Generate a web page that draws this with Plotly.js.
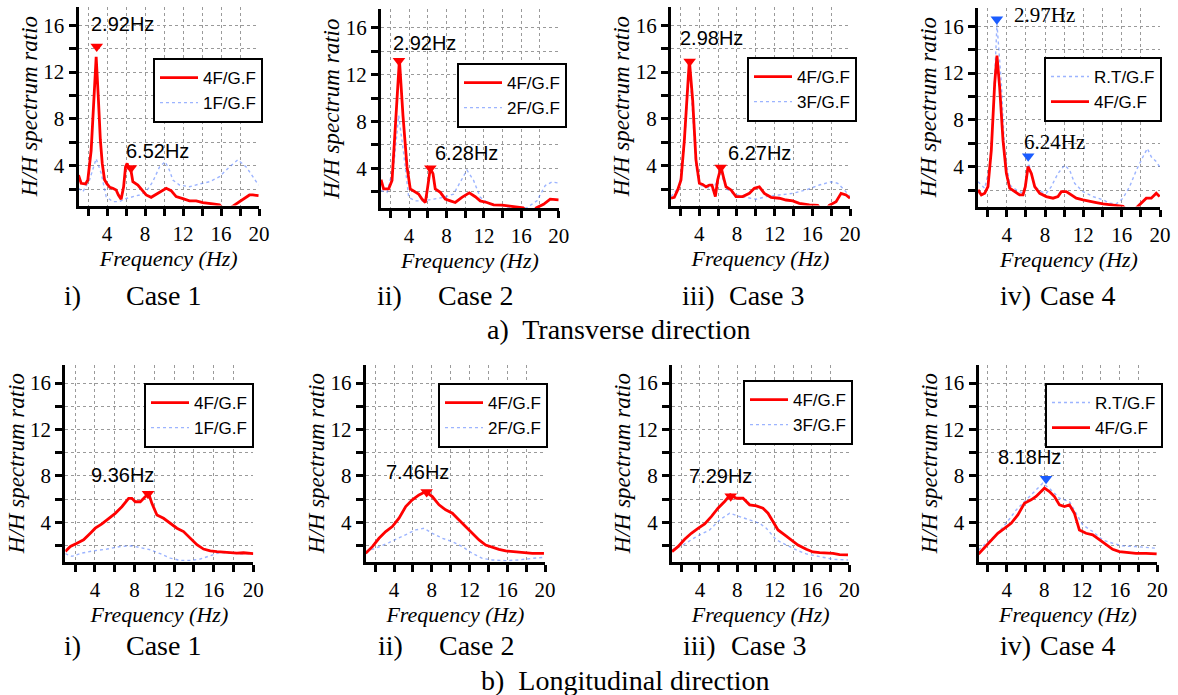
<!DOCTYPE html>
<html>
<head>
<meta charset="utf-8">
<script src="https://cdn.plot.ly/plotly-3.0.1.min.js"></script>
<style>html,body{margin:0;padding:0;background:#fff}#chart{width:1178px;height:695px}</style>
</head>
<body>
<div id="chart"></div>
<script>
// ---------- Data ----------
// Transverse, Case 1
const t1RedX = [1.0,1.28,1.74,1.98,2.33,2.6,2.86,3.1,3.3,3.5,3.74,4.0,4.3,4.61,4.96,5.2,5.49,5.75,5.95,6.12,6.3,6.45,6.72,7.25,7.77,8.12,8.65,9.35,10.0,10.23,10.75,11.28,11.98,12.68,13.39,14.09,15.14,15.84,16.2,16.8,17.25,17.6,17.95,18.3,18.65,19.0,19.35,19.95];
const t1RedY = [3.2,2.5,2.44,2.78,5.3,9.6,13.3,9.6,6.2,4.2,2.8,2.44,2.15,2.07,1.93,1.5,1.13,2.2,3.9,4.2,3.7,3.95,2.63,2.35,1.78,1.5,1.3,1.64,1.98,2.07,1.87,1.36,1.19,1.0,1.0,0.85,0.73,0.65,0.36,0.3,0.55,0.75,0.93,1.15,1.36,1.5,1.5,1.45];
const t1BlueX = [1,1.46,2.16,2.86,3.39,3.91,4.61,5.32,6.02,6.72,7.42,8.12,8.82,9.53,10.12,10.58,10.93,11.63,12.68,13.74,14.79,15.84,16.89,17.77,18.65,19.35,19.95];
const t1BlueY = [2.07,1.78,2.78,4.6,3.35,1.36,0.93,0.93,1.2,1.36,1.5,1.78,2.63,3.9,4.35,3.6,2.78,2.35,2.2,2.44,2.63,3.06,3.9,4.5,3.9,3.06,2.35];
const t1PeakX = [2.92, 6.52];
const t1PeakY = [14.2, 3.8];
// Transverse, Case 2
const t2RedX = [1,1.28,1.82,2.18,2.45,2.97,3.35,3.78,4.13,4.67,5.02,5.38,5.74,5.99,6.27,6.56,6.8,7.34,7.87,8.41,8.94,9.65,10.44,11.08,11.61,12.32,13.04,13.93,14.82,15.53,16.2,16.6,17.3,17.6,18.38,19.09,20.0];
const t2RedY = [3.03,2.24,2.24,2.97,6.47,13.3,8.5,4.14,2.24,1.95,1.8,1.37,1.08,2.39,4.0,3.55,2.24,1.95,1.37,1.22,1.08,1.52,1.9,1.57,1.22,1.08,0.87,0.85,0.78,0.7,0.62,0.3,0.3,0.62,0.93,1.37,1.31];
const t2BlueX = [1,1.64,2.35,2.89,3.42,3.96,4.67,5.56,6.63,7.7,8.76,9.48,10.19,10.9,11.61,12.68,14.1,15.53,16.6,17.67,18.56,19.27,20.0];
const t2BlueY = [2.1,1.95,4.14,8.5,5.3,1.52,1.22,1.22,1.37,1.52,1.8,2.83,3.85,2.97,1.52,0.93,0.79,0.5,0.64,1.22,2.53,2.83,2.74];
const t2PeakX = [2.92, 6.28];
const t2PeakY = [13.2, 4.0];
// Transverse, Case 3
const t3RedX = [1,1.35,1.71,2.06,2.42,2.77,2.95,3.3,3.65,4.01,4.36,4.72,5.07,5.35,5.71,5.95,6.31,6.56,6.84,7.37,7.9,8.61,9.32,9.85,10.38,10.91,11.62,12.5,13.21,13.92,14.62,15.69,16.57,16.9,17.5,17.8,18.52,19.05,19.58,20.0];
const t3RedY = [1.22,1.3,1.93,2.78,6.2,10.46,13.0,9.6,4.5,2.5,2.4,2.2,2.35,2.35,1.36,2.78,3.9,3.06,2.2,1.93,1.36,1.36,1.64,2.07,2.2,1.64,1.3,1.22,1.07,1.0,0.79,0.65,0.62,0.3,0.3,0.62,0.93,1.64,1.5,1.22];
const t3BlueX = [1,1.88,2.4,2.95,3.3,3.65,4.01,4.72,5.42,6.31,6.84,7.55,8.61,9.32,10.03,11.09,12.5,13.92,15.33,16.75,17.99,18.7,19.4,20.0];
const t3BlueY = [1.36,2.2,5.5,12.4,8.5,3.9,2.35,2.2,1.93,3.35,2.07,1.64,1.36,1.22,1.13,1.36,1.5,1.64,1.93,2.35,2.63,2.5,1.93,1.36];
const t3PeakX = [2.98, 6.27];
const t3PeakY = [12.9, 3.85];
// Transverse, Case 4
const t4RedX = [1,1.35,1.7,2.04,2.39,2.74,2.98,3.26,3.61,3.96,4.31,4.83,5.35,5.7,5.94,6.22,6.57,6.92,7.44,8.13,8.83,9.35,9.7,10.22,10.74,11.26,11.96,12.66,13.35,14.05,14.74,15.44,16.14,16.5,17.3,17.7,18.05,18.57,19.09,19.61,19.96];
const t4RedY = [2.02,1.59,1.73,2.3,5.4,11.1,13.5,10.8,6.27,3.43,2.16,1.87,1.59,1.59,2.3,4.0,3.43,2.3,1.73,1.45,1.31,1.45,1.87,1.87,1.59,1.31,1.17,1.08,0.94,0.83,0.74,0.66,0.62,0.3,0.3,0.62,0.88,1.31,1.31,1.73,1.45];
const t4BlueX = [1,1.7,2.22,2.57,2.98,3.44,3.78,4.31,5.0,5.7,6.05,6.29,6.92,7.61,8.13,8.65,9.35,10.05,10.57,11.09,11.96,13.0,14.05,14.74,15.44,16.14,16.83,17.53,18.22,18.68,19.09,19.61,19.96];
const t4BlueY = [2.72,2.16,4.0,8.3,16.2,11.1,5.4,2.44,2.02,1.73,2.87,4.3,2.3,1.87,1.73,2.3,3.43,4.14,3.7,2.58,1.87,1.45,1.17,0.88,0.83,1.31,2.3,3.7,4.85,5.56,4.85,4.43,4.0];
const t4PeakX = [2.97, 6.24];
const t4PeakY = [16.6, 4.9];
// Longitudinal, Case 1
const l1RedX = [1,1.51,2.18,2.85,3.53,4.03,4.7,5.38,6.05,6.72,7.4,7.73,8.07,8.58,9.08,9.42,9.75,10.26,10.93,11.61,12.28,12.95,13.63,14.3,14.97,15.65,16.32,17.0,17.67,18.34,19.01,19.52,20.0];
const l1RedY = [1.49,1.91,2.2,2.49,3.06,3.49,3.86,4.34,4.77,5.34,6.06,6.06,5.77,5.77,6.2,6.49,5.63,4.63,4.34,3.91,3.49,3.2,2.63,2.06,1.69,1.54,1.46,1.4,1.34,1.34,1.37,1.34,1.29];
const l1BlueX = [1,1.67,2.68,3.86,5.21,6.56,7.73,8.58,9.59,10.6,11.61,12.62,13.63,14.64,15.65,16.66,17.67,18.68,20.0];
const l1BlueY = [1.29,1.06,1.34,1.54,1.69,1.91,1.97,1.83,1.63,1.29,0.91,0.71,0.71,0.83,1.11,1.4,1.34,1.29,1.29];
const l1PeakX = [9.36];
const l1PeakY = [6.45];
// Longitudinal, Case 2
const l2RedX = [1,1.71,2.41,3.12,3.82,4.53,5.24,5.94,6.65,7.36,8.06,8.77,9.47,10.18,10.89,11.59,12.3,13.01,13.71,14.42,15.12,15.83,16.54,17.24,17.95,18.66,19.89];
const l2RedY = [1.32,1.9,2.62,3.2,3.63,4.35,5.35,5.93,6.36,6.65,6.22,5.5,5.07,4.78,4.2,3.63,3.05,2.48,2.04,1.84,1.67,1.53,1.47,1.47,1.38,1.32,1.32];
const l2BlueX = [1,2.06,3.47,4.88,6.3,7.18,8.06,9.12,10.18,11.24,12.3,13.36,14.42,15.83,17.24,18.66,19.89];
const l2BlueY = [1.47,1.76,2.25,2.76,3.34,3.48,3.05,2.62,2.33,1.9,1.32,0.89,0.75,0.69,0.75,0.89,0.98];
const l2PeakX = [7.46];
const l2PeakY = [6.6];
// Longitudinal, Case 3
const l3RedX = [1,1.64,2.36,3.07,3.79,4.5,5.21,5.93,6.64,7.25,7.89,8.61,9.32,10.04,10.75,11.29,11.82,12.36,13.07,13.79,14.5,15.39,16.11,16.82,17.54,18.25,18.96,19.86];
const l3RedY = [1.47,1.9,2.53,3.05,3.48,3.86,4.49,5.21,5.79,6.36,6.07,6.07,5.5,5.41,5.21,4.78,4.06,3.34,2.91,2.48,2.04,1.67,1.44,1.38,1.38,1.32,1.21,1.18];
const l3BlueX = [1,2.18,3.61,5.04,6.11,7.18,8.25,9.32,10.39,11.11,12.18,13.25,14.32,15.39,16.82,18.25,19.86];
const l3BlueY = [1.61,2.04,2.76,3.34,4.2,4.78,4.49,4.2,3.91,3.48,2.48,2.04,1.61,1.27,1.04,0.81,0.75];
const l3PeakX = [7.29];
const l3PeakY = [6.25];
// Longitudinal, Case 4
const l4RedX = [1,1.64,2.34,3.05,3.76,4.47,5.18,5.88,6.59,7.12,7.65,8.01,8.54,9.07,9.6,10.13,10.66,11.19,11.72,12.43,13.14,13.85,14.55,15.26,15.97,16.68,17.74,18.8,19.93];
const l4RedY = [1.27,1.84,2.47,3.05,3.48,3.91,4.63,5.64,5.93,6.22,6.65,6.94,6.65,6.22,5.5,5.35,5.5,4.78,3.34,3.05,2.91,2.47,2.04,1.67,1.47,1.41,1.32,1.32,1.27];
const l4BlueX = [1,1.81,2.88,3.94,5.0,5.88,6.77,7.83,8.71,9.6,10.66,11.37,12.08,13.14,14.2,15.26,16.32,17.74,18.8,19.93];
const l4BlueY = [1.61,2.19,2.91,3.91,5.06,5.78,6.5,7.37,6.79,6.07,5.78,4.78,3.77,3.2,2.47,2.19,1.96,1.9,1.84,1.76];
const l4PeakX = [8.18];
const l4PeakY = [7.75];

// Names and labels
const redNames = ['4F/G.F','4F/G.F','4F/G.F','4F/G.F','4F/G.F','4F/G.F','4F/G.F','4F/G.F'];
const blueNames = ['1F/G.F','2F/G.F','3F/G.F','R.T/G.F','1F/G.F','2F/G.F','3F/G.F','R.T/G.F'];
const peakTexts = [['2.92Hz','6.52Hz'],['2.92Hz','6.28Hz'],['2.98Hz','6.27Hz'],['2.97Hz','6.24Hz'],['9.36Hz'],['7.46Hz'],['7.29Hz'],['8.18Hz']];
const caseLabels = ['i)','ii)','iii)','iv)'];
const caseNames = ['Case 1','Case 2','Case 3','Case 4'];
const directionTitles = ['a)\u00a0 Transverse direction','b)\u00a0 Longitudinal direction'];
const xTickVals = [2,4,6,8,10,12,14,16,18,20];
const xTickText = ['','4','','8','','12','','16','','20'];
const yTickVals = [2,4,6,8,10,12,14,16];
const yTickText = ['','4','','8','','12','','16'];
const xTitle = 'Frequency (Hz)';
const yTitle = 'H/H spectrum ratio';

// ---------- Build ----------
const W = 1178, H = 695;
const series = [
  [t1RedX,t1RedY,t1BlueX,t1BlueY,t1PeakX,t1PeakY],
  [t2RedX,t2RedY,t2BlueX,t2BlueY,t2PeakX,t2PeakY],
  [t3RedX,t3RedY,t3BlueX,t3BlueY,t3PeakX,t3PeakY],
  [t4RedX,t4RedY,t4BlueX,t4BlueY,t4PeakX,t4PeakY],
  [l1RedX,l1RedY,l1BlueX,l1BlueY,l1PeakX,l1PeakY],
  [l2RedX,l2RedY,l2BlueX,l2BlueY,l2PeakX,l2PeakY],
  [l3RedX,l3RedY,l3BlueX,l3BlueY,l3PeakX,l3PeakY],
  [l4RedX,l4RedY,l4BlueX,l4BlueY,l4PeakX,l4PeakY]
];
// layout in pixels: [left, right, top, bottom]
const boxes = [
  [78.5,259,6.6,205.5],[381,558.7,9.2,208.1],[671,850,6.6,205.5],[978,1160,7.6,206.5],
  [65.3,253.3,364.5,561.7],[365.7,545,364.5,561.7],[672,849.3,364.5,561.7],[978.5,1157.3,364.5,561.7]
];
const legendPos = [[153,58],[457,63],[747,57],[1044,57],[144,383],[438,383],[743,380],[1045,383]];
const peakLabelPos = [[[122.5,24],[157,151]],[[424,43],[466,153]],[[711,38],[759,153]],[[1044,15],[1054,142]],
  [[122.5,475]],[[417,472]],[[721,476]],[[1029,457]]];
const blueFirst = [false,false,false,true,false,false,false,true];
const bluePeak = [false,false,false,true,false,false,false,true];

const RED = '#ff0000', BLUE = 'rgba(90,130,255,0.6)', BLUEMK = '#1a5cff';
const serif = 'Liberation Serif';
const sans = 'Liberation Sans';

const data = [];
const layout = {width:W, height:H, margin:{l:0,r:0,t:0,b:0}, paper_bgcolor:'#fff', plot_bgcolor:'rgba(0,0,0,0)', showlegend:true, annotations:[]};

series.forEach((s,i) => {
  const k = i+1, xa = 'x'+(k>1?k:''), ya = 'y'+(k>1?k:''), lg = 'legend'+(k>1?k:'');
  const [rx,ry,bx,by,px,py] = s;
  data.push({type:'scatter', mode:'lines', x:bx, y:by, xaxis:xa, yaxis:ya, legend:lg, name:blueNames[i],
    line:{color:BLUE, width:1.4, dash:'dot'}, legendrank: blueFirst[i]?1:2, hoverinfo:'skip'});
  data.push({type:'scatter', mode:'lines', x:rx, y:ry, xaxis:xa, yaxis:ya, legend:lg, name:redNames[i],
    line:{color:RED, width:2.8}, legendrank: blueFirst[i]?2:1, hoverinfo:'skip'});
  data.push({type:'scatter', mode:'markers', x:px, y:py, xaxis:xa, yaxis:ya, showlegend:false,
    marker:{symbol:'triangle-down', size:11, color: bluePeak[i]?BLUEMK:RED}, hoverinfo:'skip'});
  const b = boxes[i];
  layout['xaxis'+(k>1?k:'')] = {domain:[b[0]/W, b[1]/W], anchor:ya, range:[1,20], tickmode:'array', tickvals:xTickVals, ticktext:xTickText,
    showgrid:true, gridcolor:'#9a9a9a', griddash:'dot', gridwidth:1, zeroline:false,
    showline:true, linecolor:'#000', linewidth:3, ticks:'outside', ticklen:7, tickwidth:3, tickcolor:'#000',
    tickfont:{family:serif, size:21, color:'#000'},
    title:{text:'<i>'+xTitle+'</i>', font:{family:serif, size:22, color:'#000'}, standoff:2}};
  layout['yaxis'+(k>1?k:'')] = {domain:[1-b[3]/H, 1-b[2]/H], anchor:xa, range:[0.6,17.6], tickmode:'array', tickvals:yTickVals, ticktext:yTickText,
    showgrid:true, gridcolor:'#9a9a9a', griddash:'dot', gridwidth:1, zeroline:false,
    showline:true, linecolor:'#000', linewidth:3, ticks:'outside', ticklen:7, tickwidth:3, tickcolor:'#000',
    tickfont:{family:serif, size:21, color:'#000'},
    title:{text:'<i>'+yTitle+'</i>', font:{family:serif, size:23, color:'#000'}, standoff:0}};
  const lp = legendPos[i];
  layout[lg] = {x:lp[0]/W, y:1-lp[1]/H, xanchor:'left', yanchor:'top', bgcolor:'#fff', bordercolor:'#000', borderwidth:2,
    font:{family:sans, size:17, color:'#000'}, tracegroupgap:0, traceorder:'normal', itemwidth:38};
  peakTexts[i].forEach((t,j) => {
    const p = peakLabelPos[i][j];
    const serifLbl = (i===3);
    layout.annotations.push({xref:'paper', yref:'paper', x:p[0]/W, y:1-p[1]/H, xanchor:'center', yanchor:'middle', showarrow:false,
      text:t, font:{family: serifLbl?serif:sans, size: serifLbl?21:20, color:'#000'}});
  });
});

// captions
const capRowsY = [296, 645];
const capLabelX = [[62,375,680,998],[62,376,681,998]];
const capNameX = [[124,436,727,1038],[124,437,729,1038]];
const dirPos = [[619,329],[625,680]];
[0,1].forEach(r => {
  caseLabels.forEach((lab,c) => {
    layout.annotations.push({xref:'paper', yref:'paper', x:capLabelX[r][c]/W, y:1-capRowsY[r]/H, xanchor:'left', yanchor:'middle', showarrow:false,
      text:lab, font:{family:serif, size:28, color:'#000'}});
    layout.annotations.push({xref:'paper', yref:'paper', x:capNameX[r][c]/W, y:1-capRowsY[r]/H, xanchor:'left', yanchor:'middle', showarrow:false,
      text:caseNames[c], font:{family:serif, size:28, color:'#000'}});
  });
  layout.annotations.push({xref:'paper', yref:'paper', x:dirPos[r][0]/W, y:1-dirPos[r][1]/H, xanchor:'center', yanchor:'middle', showarrow:false,
    text:directionTitles[r], font:{family:serif, size:28, color:'#000'}});
});

Plotly.newPlot('chart', data, layout, {staticPlot:true, displayModeBar:false});
</script>
</body>
</html>
